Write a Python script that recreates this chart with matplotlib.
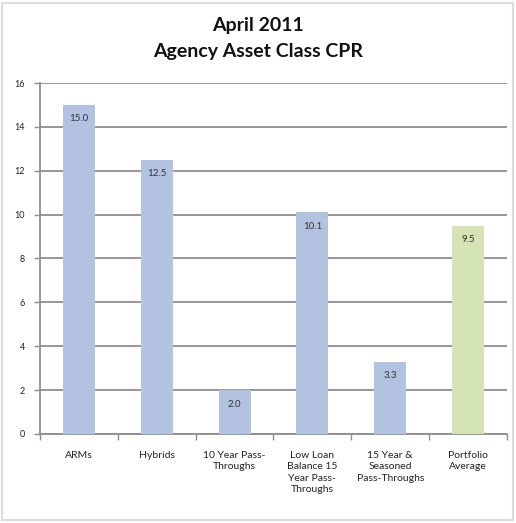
import matplotlib
matplotlib.use("Agg")
import matplotlib.pyplot as plt
from matplotlib.patches import Rectangle

categories = ["ARMs", "Hybrids", "10 Year Pass-\nThroughs",
              "Low Loan\nBalance 15\nYear Pass-\nThroughs",
              "15 Year &\nSeasoned\nPass-Throughs", "Portfolio\nAverage"]
values = [15.0, 12.5, 2.0, 10.1, 3.3, 9.5]
value_labels = ["15.0", "12.5", "2.0", "10.1", "3.3", "9.5"]
yticks = [0, 2, 4, 6, 8, 10, 12, 14, 16]

blue = "#B3C2E0"
green = "#D5E4B4"
colors = [blue] * 5 + [green]

plt.rcParams['font.family'] = ['Lato', 'DejaVu Sans']

fig = plt.figure(figsize=(5.16, 5.23), dpi=100)
fig.patch.set_facecolor("white")
fig.patches.append(Rectangle((0.004, 0.006), 0.99, 0.988, transform=fig.transFigure,
                             fill=False, edgecolor="#DDDDDD", linewidth=1.5))

ax = fig.add_axes([0.0775, 0.1702, 0.905, 0.6711])
x = list(range(len(categories)))
bars = ax.bar(x, values, width=0.41, color=colors, zorder=3)
for xi, v, lab in zip(x, values, value_labels):
    ax.annotate(lab, (xi, v), xytext=(0, -10), textcoords="offset points",
                ha="center", va="center", fontsize=7, color="#333333", zorder=4)

ax.set_xlim(-0.5, len(categories) - 0.5)
ax.set_ylim(0, 16)
ax.set_yticks(yticks)
ax.set_yticklabels([str(t) for t in yticks], fontsize=6.5, color="#222222")
ax.yaxis.grid(True, color="#8E8E8E", linewidth=1.3, zorder=0)
ax.set_axisbelow(True)

ax.set_xticks(x)
ax.set_xticklabels(categories, fontsize=7.5, color="#222222", linespacing=1.35)
ax.tick_params(axis="x", length=0, pad=12)
ax.set_xticks([i - 0.5 for i in range(len(categories) + 1)], minor=True)
ax.tick_params(axis="x", which="minor", length=4, color="#8E8E8E", width=1)
ax.tick_params(axis="y", length=4, color="#8E8E8E", width=1, pad=7)

for s in ["top", "right"]:
    ax.spines[s].set_visible(False)
ax.spines["left"].set_color("#8E8E8E")
ax.spines["bottom"].set_color("#8E8E8E")
ax.spines["left"].set_linewidth(1.3)
ax.spines["bottom"].set_linewidth(1.3)

fig.text(0.5, 0.951, "April 2011", ha="center", va="center",
         fontsize=14, fontweight="bold", color="#111111")
fig.text(0.5, 0.902, "Agency Asset Class CPR", ha="center", va="center",
         fontsize=14, fontweight="bold", color="#111111")

fig.savefig("out.png", dpi=100, facecolor="white")
